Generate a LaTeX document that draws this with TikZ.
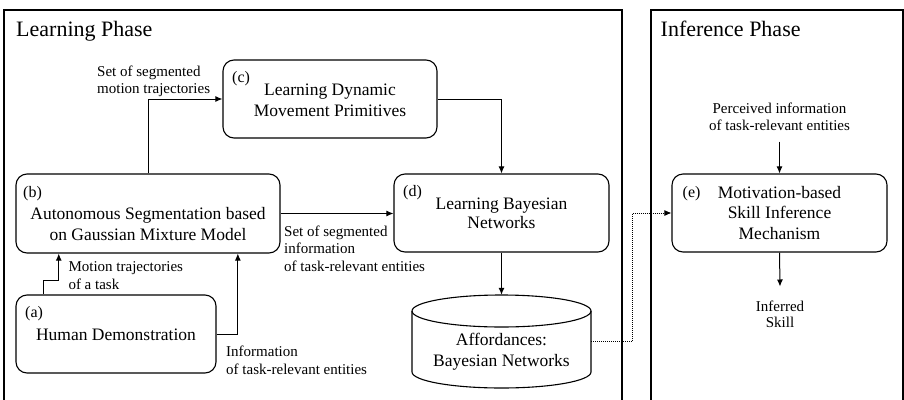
\documentclass[tikz,border=0pt]{standalone}
\usepackage{fontspec}
\setmainfont{Liberation Serif}
\usetikzlibrary{arrows.meta,calc}
\begin{document}
\begin{tikzpicture}[x=1pt,y=-1pt,
  frame/.style={draw, line width=2pt},
  procbox/.style={draw, line width=1.1pt, rounded corners=11pt, inner sep=0pt},
  boxtext/.style={font=\fontsize{17.5}{20}\selectfont, anchor=base, inner sep=0pt},
  tag/.style={font=\fontsize{16}{18}\selectfont, anchor=base west, inner sep=0pt},
  note/.style={font=\fontsize{15}{17}\selectfont, anchor=base west, inner sep=0pt},
  notec/.style={font=\fontsize{15}{17}\selectfont, anchor=base, inner sep=0pt},
  title/.style={font=\fontsize{22}{26}\selectfont, anchor=base west, inner sep=0pt},
  arr/.style={line width=1pt, -{Latex[length=7pt,width=6pt]}},
  dotarr/.style={line width=0.9pt, dash pattern=on 1pt off 1pt, -{Latex[length=7pt,width=6pt]}}]

\useasboundingbox (0,0) rectangle (904,399);
\clip (0,0) rectangle (904,399);

% phase frames (open at the bottom edge)
\draw[frame] (4,10) rectangle (622,430);
\draw[frame] (651,10) rectangle (903,430);
\node[title] (lp) at (16,36) {Learning Phase};
\node[title] (ip) at (660.5,36) {Inference Phase};

% process boxes
\node[procbox, minimum width=200pt, minimum height=78pt] (a) at (116,334) {};
\node[procbox, minimum width=264pt, minimum height=79pt] (b) at (148,213.5) {};
\node[procbox, minimum width=214pt, minimum height=78pt] (c) at (330,99) {};
\node[procbox, minimum width=215pt, minimum height=78pt] (d) at (501.5,213) {};
\node[procbox, minimum width=215pt, minimum height=78pt] (e) at (779.5,213) {};

% affordance store (cylinder)
\node[minimum width=179pt, minimum height=93pt, inner sep=0pt] (cyl) at (501.5,341.5) {};
\draw[line width=1.1pt, fill=white] (412,311) -- (412,372)
  arc[start angle=180, end angle=360, x radius=89.5pt, y radius=16pt] -- (591,311);
\draw[line width=1.1pt] (501.5,311) ellipse[x radius=89.5pt, y radius=16pt];

% box tags
\node[tag] (at) at (25,317) {(a)};
\node[tag] (bt) at (23,197) {(b)};
\node[tag] (ct) at (232,82) {(c)};
\node[tag] (dt) at (403,196.5) {(d)};
\node[tag] (et) at (682.5,197) {(e)};

% box texts
\node[boxtext] (a1) at (116,340.7) {Human Demonstration};
\node[boxtext] (b1) at (148,219.3) {Autonomous Segmentation based};
\node[boxtext] (b2) at (148,240.7) {on Gaussian Mixture Model};
\node[boxtext] (c1) at (330,95.7) {Learning Dynamic};
\node[boxtext] (c2) at (330,116) {Movement Primitives};
\node[boxtext] (d1) at (501.5,209.3) {Learning Bayesian};
\node[boxtext] (d2) at (501.5,228.5) {Networks};
\node[boxtext] (e1) at (779.5,198) {Motivation-based};
\node[boxtext] (e2) at (779.5,218.5) {Skill Inference};
\node[boxtext] (e3) at (779.5,239) {Mechanism};
\node[boxtext] (f1) at (501.5,345) {Affordances:};
\node[boxtext] (f2) at (501.5,366) {Bayesian Networks};

% connector labels
\node[note] (s1) at (97,76) {Set of segmented};
\node[note] (s2) at (97,93) {motion trajectories};
\node[note] (m1) at (68.3,271.7) {Motion trajectories};
\node[note] (m2) at (68.3,289.3) {of a task};
\node[note] (g1) at (284,236) {Set of segmented};
\node[note] (g2) at (284,253.3) {information};
\node[note] (g3) at (284,271) {of task-relevant entities};
\node[note] (i1) at (226,356.7) {Information};
\node[note] (i2) at (226,374.3) {of task-relevant entities};
\node[notec] (p1) at (779.5,113.3) {Perceived information};
\node[notec] (p2) at (779.5,130.7) {of task-relevant entities};
\node[notec] (r1) at (780,311.5) {Inferred};
\node[notec] (r2) at (780,327.5) {Skill};

% connectors
\draw[arr] (b.north) |- (c.west);
\draw[arr] (c.east) -| (d.north);
\draw[arr] (b.east) -- (b.east -| d.west);
\draw[arr] ([xshift=28.3pt]a.north west) -- ++(0,-13.5) -| ([xshift=43.3pt]b.south west);
\draw[arr] (a.east) -| ([xshift=-42.7pt]b.south east);
\draw[arr] (d.south) -- (cyl.north);
\draw[dotarr] (cyl.east) -- ++(41.3,0) |- (e.west);
\draw[arr] ([yshift=-11pt]p2.base) -- (e.north);
\draw[arr] (e.south) -- ([yshift=25pt]r1.base);
\end{tikzpicture}
\end{document}
